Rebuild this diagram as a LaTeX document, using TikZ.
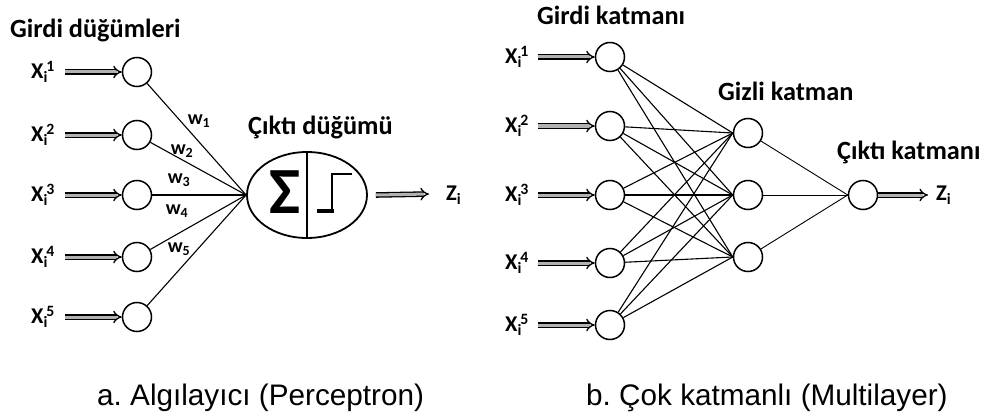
\documentclass[tikz,border=0pt]{standalone}
\usepackage{fontspec}
\setmainfont{Carlito}
\newfontfamily\capfont{Liberation Sans}
\usetikzlibrary{arrows.meta,shapes.geometric}
\frenchspacing
\newcommand{\xlb}[1]{X\textsubscript{i}\kern-1.5pt\textsuperscript{#1}}
\tikzset{
  neuron/.style={circle, draw, line width=1.5pt, minimum size=29pt, inner sep=0pt},
  inarrow/.style={draw=black, line width=1.3pt, double=gray!60, double distance=3pt, -{Implies[scale=1.6]}},
  edge/.style={line width=1.1pt},
  ttl/.style={font=\bfseries\fontsize{26.3}{26.3}\selectfont, anchor=base west, inner sep=0pt},
  xlab/.style={font=\bfseries\fontsize{22.5}{22.5}\selectfont, anchor=west, inner sep=0pt},
  wlab/.style={font=\bfseries\fontsize{20}{20}\selectfont, inner sep=0pt},
  captext/.style={font=\capfont\fontsize{29.7}{29.7}\selectfont, anchor=base west, inner sep=0pt},
}
\begin{document}
\begin{tikzpicture}[x=1pt,y=-1pt]
\useasboundingbox (0,0) rectangle (989,420);
% ---------- left: perceptron ----------
\node[ttl] (t1) at (10,38) {Girdi düğümleri};
\foreach \i/\y in {1/72,2/135,3/195,4/257,5/317}{
  \node[neuron] (a\i) at (137,\y) {};
  \node[xlab] (la\i) at (31,\y) {\xlb{\i}};
  \draw[inarrow] (la\i.east) ++(10,0) -- (a\i.west);
}
\node[ellipse, draw, line width=1.8pt, minimum width=120pt, minimum height=86pt, inner sep=0pt] (out) at (307,195) {};
\draw[line width=1.2pt] (out.north) -- (out.south);
\node[inner sep=0pt, font=\bfseries\fontsize{66}{66}\selectfont] (sig) at (285,192) {Σ};
\draw[line width=3.8pt, line cap=butt] (317,211) -- (333.5,211);
\draw[line width=2.8pt, line join=miter] (332,212) -- (332,174) -- (352,174);
\node[ttl] (t2) at (248,135) {Çıktı düğümü};
\foreach \i in {1,...,5}{ \draw[edge] (a\i) -- (out.west); }
\node[wlab] (w1) at (199,121) {w\textsubscript{1}};
\node[wlab] (w2) at (182,151) {w\textsubscript{2}};
\node[wlab] (w3) at (179,180) {w\textsubscript{3}};
\node[wlab] (w4) at (177,211) {w\textsubscript{4}};
\node[wlab] (w5) at (179,249) {w\textsubscript{5}};
\coordinate (oend) at (429,194);
\draw[inarrow] (out.east) ++(8,0) -- (oend);
\node[xlab] (z1) at (446,195) {Z\textsubscript{i}};
% ---------- right: multilayer ----------
\node[ttl] (t3) at (537,25) {Girdi katmanı};
\node[ttl] (t4) at (718,101) {Gizli katman};
\node[ttl] (t5) at (837,160) {Çıktı katmanı};
\foreach \i/\y in {1/57,2/126,3/195,4/263,5/325}{
  \node[neuron] (b\i) at (610,\y) {};
  \node[xlab] (lb\i) at (505,\y) {\xlb{\i}};
  \draw[inarrow] (lb\i.east) ++(9,0) -- (b\i.west);
}
\foreach \j/\y in {1/133,2/195,3/257}{
  \node[neuron] (h\j) at (748,\y) {};
}
\node[neuron] (o) at (863,195) {};
\foreach \i in {1,...,5}{ \foreach \j in {1,2,3}{ \draw[edge] (b\i) -- (h\j.west); } }
\foreach \j in {1,2,3}{ \draw[line width=0.9pt] (h\j) -- (o.west); }
\coordinate (oend2) at (928,195);
\draw[inarrow] (o.east) -- (oend2);
\node[xlab] (z2) at (936,195) {Z\textsubscript{i}};
% ---------- captions ----------
\node[captext] (c1) at (97,405) {a. Algılayıcı (Perceptron)};
\node[captext] (c2) at (586,405) {b. Çok katmanlı (Multilayer)};
\end{tikzpicture}
\end{document}
